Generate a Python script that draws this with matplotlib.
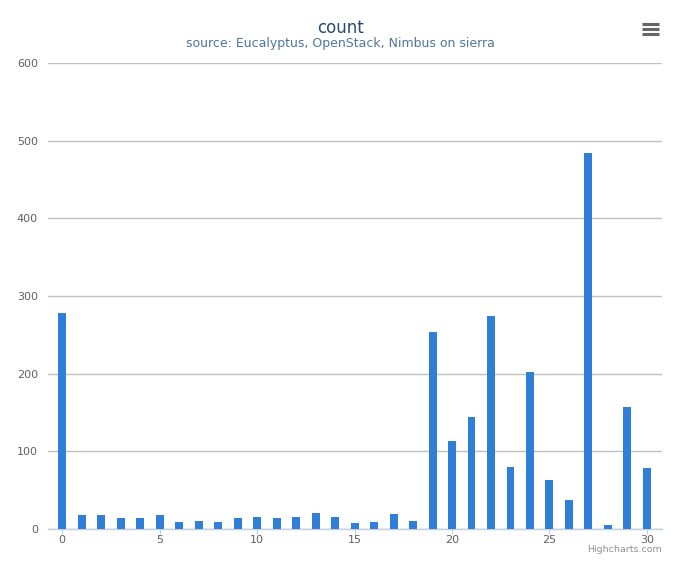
import matplotlib
matplotlib.use("Agg")
import matplotlib.pyplot as plt

categories = list(range(31))
counts = [278, 18, 18, 14, 14, 18, 9, 10, 9, 14, 16, 14, 16, 21, 16, 8,
          9, 19, 10, 254, 113, 144, 274, 80, 202, 63, 37, 484, 5, 157, 79]
y_ticks = [0, 100, 200, 300, 400, 500, 600]
x_ticks = [0, 5, 10, 15, 20, 25, 30]

W, H = 680, 566
fig = plt.figure(figsize=(W / 100, H / 100), dpi=100)
ax = fig.add_axes([48 / W, 37 / H, 614 / W, 466 / H])

ax.bar(categories, counts, width=0.41, color="#2F7ED8", zorder=3)
ax.set_xlim(-0.72, 30.77)
ax.set_ylim(0, 600)
ax.set_yticks(y_ticks)
ax.set_xticks(x_ticks)
ax.yaxis.grid(True, color="#C0C0C0", linewidth=1, zorder=0)
for s in ["top", "right", "left"]:
    ax.spines[s].set_visible(False)
ax.spines["bottom"].set_color("#C0D0E0")
ax.spines["bottom"].set_linewidth(1)
ax.tick_params(axis="y", length=0, labelsize=8, labelcolor="#606060", pad=7.2)
ax.tick_params(axis="x", length=3.6, color="#C0D0E0", labelsize=8, labelcolor="#606060", pad=0.5)

fig.text(340 / W, 1 - 28 / H, "count", ha="center", va="center", fontsize=12, color="#274B6D")
fig.text(340 / W, 1 - 44 / H, "source: Eucalyptus, OpenStack, Nimbus on sierra",
         ha="center", va="center", fontsize=9, color="#4D759E")
fig.text(662 / W, 1 - 550 / H, "Highcharts.com", ha="right", va="center",
         fontsize=6.8, color="#909090")

# menu icon
for yy in (24, 29, 34):
    fig.add_artist(plt.Line2D([642 / W, 659 / W], [1 - yy / H, 1 - yy / H],
                              color="#666666", linewidth=2.2, solid_capstyle="butt"))

fig.savefig("out.png", dpi=100, facecolor="white")
